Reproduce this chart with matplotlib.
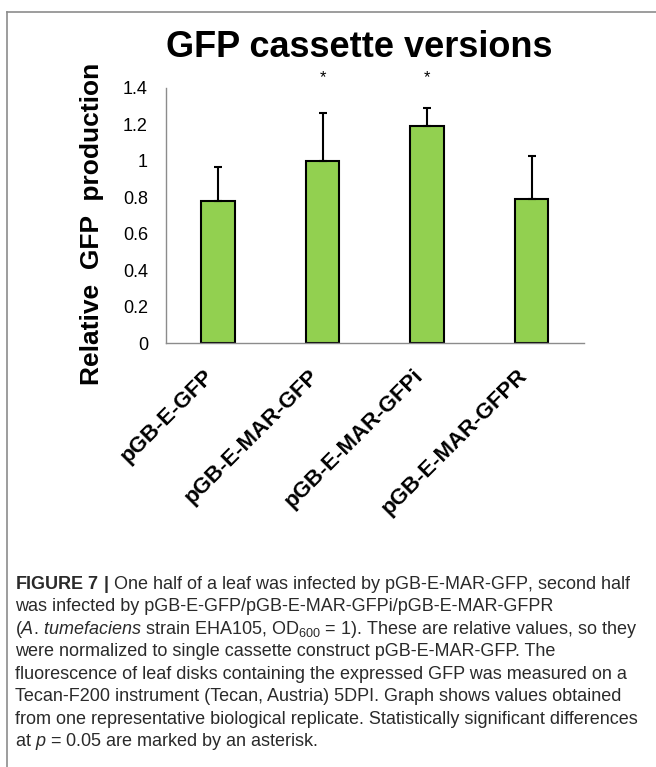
import numpy as np
import matplotlib
matplotlib.use("Agg")
import matplotlib.pyplot as plt
from matplotlib.lines import Line2D

plt.rcParams['font.family'] = ['Liberation Sans', 'DejaVu Sans']
plt.rcParams['mathtext.fontset'] = 'custom'
plt.rcParams['mathtext.rm'] = 'Liberation Sans'
plt.rcParams['mathtext.it'] = 'Liberation Sans:italic'
plt.rcParams['mathtext.bf'] = 'Liberation Sans:bold'

# data
constructs = ["pGB-E-GFP", "pGB-E-MAR-GFP", "pGB-E-MAR-GFPi", "pGB-E-MAR-GFPR"]
values = [0.78, 1.00, 1.19, 0.79]
errors = [0.185, 0.265, 0.10, 0.235]
significant = [False, True, True, False]
yticks = [0, 0.2, 0.4, 0.6, 0.8, 1, 1.2, 1.4]
ytick_labels = ["0", "0.2", "0.4", "0.6", "0.8", "1", "1.2", "1.4"]

caption_lines = [
    r"$\mathbf{FIGURE\ 7\ |}$ One half of a leaf was infected by pGB-E-MAR-GFP, second half",
    "was infected by pGB-E-GFP/pGB-E-MAR-GFPi/pGB-E-MAR-GFPR",
    r"($\mathit{A}$. $\mathit{tumefaciens}$ strain EHA105, OD$_{600}$ = 1). These are relative values, so they",
    "were normalized to single cassette construct pGB-E-MAR-GFP. The",
    "fluorescence of leaf disks containing the expressed GFP was measured on a",
    "Tecan-F200 instrument (Tecan, Austria) 5DPI. Graph shows values obtained",
    "from one representative biological replicate. Statistically significant differences",
    r"at $\mathit{p}$ = 0.05 are marked by an asterisk.",
]

fig = plt.figure(figsize=(6.56, 7.67), dpi=100)
ax = fig.add_axes([0.253, 0.5528, 0.637, 0.3325])

x = np.arange(len(constructs))
ax.bar(x, values, width=0.32, color="#92d050", edgecolor="black", linewidth=1.5,
       yerr=[np.zeros(len(errors)), errors], capsize=3,
       error_kw=dict(ecolor="black", elinewidth=1.5, capthick=1.5))

for xi, s in zip(x, significant):
    if s:
        ax.text(xi, 1.455, "*", ha="center", va="center", fontsize=12)

ax.set_xlim(-0.5, 3.5)
ax.set_ylim(0, 1.4)
ax.set_yticks(yticks)
ax.set_yticklabels(ytick_labels, fontsize=13)
ax.set_xticks(x)
ax.set_xticklabels(constructs, rotation=45, ha="right", va="top", fontsize=16, fontweight="bold")
ax.tick_params(length=0)
ax.tick_params(axis="y", pad=13)
ax.tick_params(axis="x", pad=16)
for side in ["top", "right"]:
    ax.spines[side].set_visible(False)
for side in ["left", "bottom"]:
    ax.spines[side].set_color("#8c8c8c")
    ax.spines[side].set_linewidth(1.0)

fig.text(0.547, 0.9387, "GFP cassette versions", ha="center", va="center",
         fontsize=26, fontweight="bold")
fig.text(0.141, 0.708, "Relative  GFP  production", ha="center", va="center",
         rotation=90, fontsize=19, fontweight="bold")

# caption
y0 = 0.2385
for i, line in enumerate(caption_lines):
    fig.text(0.023, y0 - i * 0.0294, line, ha="left", va="center",
             fontsize=13, color="#2a2a2a")

# frame of the figure panel
fig.add_artist(Line2D([0.0107, 1.0], [0.984, 0.984], color="#8c8c8c", lw=1.2))
fig.add_artist(Line2D([0.0107, 0.0107], [0.0, 0.984], color="#8c8c8c", lw=1.2))

fig.savefig("out.png", dpi=100)
